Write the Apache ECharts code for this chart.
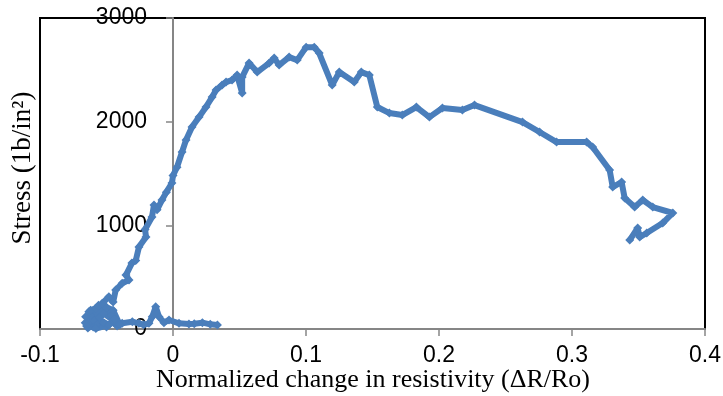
<!DOCTYPE html>
<html lang="en">
<head>
    <meta charset="UTF-8">
    <title>stress-resistivity</title>
    <script src="https://cdn.jsdelivr.net/npm/echarts/dist/echarts.min.js"></script>
    <style>
        html, body, #main {
            padding: 0px;
            margin: 0px;
            width: 723px;
            height: 396px;
            background: #fff;
        }
    </style>
</head>
<body>
    <div id="main"></div>
    <script type="text/javascript">
        // values: change in resistivity (x) and stress (y)
        const resistivity = [
            0.0334, 0.028, 0.0221, 0.016, 0.012, 0.0045, -0.003, -0.0068, -0.0105, -0.013,
            -0.0156, -0.0181, -0.022, -0.0256, -0.0306, -0.0382, -0.042, -0.0457, -0.05, -0.0557,
            -0.06, -0.0633, -0.064, -0.058, -0.066, -0.06, -0.065, -0.052, -0.058, -0.048,
            -0.062, -0.055, -0.0657, -0.05, -0.0633, -0.046, -0.062, -0.0582, -0.044, -0.056,
            -0.052, -0.04, -0.045, -0.05, -0.0532, -0.0482, -0.045, -0.0431,
            -0.0382, -0.0331, -0.0354, -0.0309, -0.028, -0.0256, -0.0203, -0.021, -0.0158, -0.0143,
            -0.012, -0.0083, -0.005, -0.0008,
            0.0, 0.003, 0.0068, 0.0098, 0.0143, 0.0196, 0.0248, 0.0294, 0.0324, 0.0369,
            0.0399, 0.0444, 0.0482, 0.052, 0.052, 0.0572, 0.0633, 0.0723, 0.0761, 0.0798,
            0.0873, 0.0934, 0.1001, 0.1062, 0.1099, 0.1197, 0.125, 0.1363, 0.1416, 0.1476,
            0.1536, 0.1627, 0.1724, 0.183, 0.1928, 0.2026, 0.2176, 0.2267, 0.2628, 0.2756,
            0.2884, 0.311, 0.3155, 0.3283, 0.3306, 0.3373, 0.3396, 0.3471, 0.3532, 0.3607,
            0.3758, 0.3682, 0.3562, 0.3509, 0.3494, 0.3434
        ];
        const stress = [
            39, 45, 61, 50, 48, 55, 87, 61, 119, 215,
            119, 55, 40, 55, 70, 55, 30, 70, 20, 87,
            20, 70, 10, 40, 60, 90, 30, 60, 5, 40,
            130, 110, 119, 170, 167, 130, 180, 200, 90, 230,
            150, 40, 180, 210, 248, 311, 260, 376,
            441, 473, 520, 636, 660, 791, 887, 960, 1080, 1196,
            1150, 1244, 1320, 1408,
            1480, 1560, 1707, 1823, 1948, 2044, 2141, 2237, 2305, 2353,
            2382, 2401, 2449, 2276, 2430, 2565, 2478, 2565, 2613, 2546,
            2623, 2594, 2719, 2719, 2662, 2353, 2478, 2382, 2478, 2449,
            2141, 2083, 2064, 2141, 2044, 2131, 2112, 2160, 1996, 1900,
            1803, 1803, 1755, 1533, 1369, 1418, 1263, 1176, 1244, 1176,
            1119, 1022, 926, 887, 974, 858
        ];
        const xTicks = [-0.1, 0, 0.1, 0.2, 0.3, 0.4];
        const yTicks = [0, 1000, 2000, 3000];
        const xName = 'Normalized change in resistivity (ΔR/Ro)';
        const yName = 'Stress (1b/in²)';

        let chart = echarts.init(document.getElementById('main'));
        let points = resistivity.map((x, i) => [x, stress[i]]);

        // plot box 40..705 px, so x = 0 sits one fifth of the way across
        const gridLeft = 40, gridRight = 18;
        const plotWidth = 723 - gridLeft - gridRight;
        const zeroShift = plotWidth * (0 - xTicks[0]) / (xTicks[xTicks.length - 1] - xTicks[0]);

        let option = {
            animation: false,
            backgroundColor: '#fff',
            grid: {
                left: gridLeft,
                right: gridRight,
                top: 18,
                bottom: 67,
                containLabel: false,
                outerBoundsMode: 'none',
                show: true,
                borderColor: '#000',
                borderWidth: 2
            },
            xAxis: {
                type: 'value',
                min: xTicks[0],
                max: xTicks[xTicks.length - 1],
                interval: 0.1,
                axisLine: { lineStyle: { color: '#868686', width: 2 } },
                axisTick: { length: 7, lineStyle: { color: '#868686', width: 1.5 } },
                axisLabel: {
                    margin: 15,
                    fontSize: 23,
                    fontFamily: 'Liberation Sans',
                    color: '#000',
                    formatter: v => String(Math.round(v * 10) / 10)
                },
                splitLine: { show: false }
            },
            yAxis: {
                type: 'value',
                min: yTicks[0],
                max: yTicks[yTicks.length - 1],
                interval: 1000,
                offset: -zeroShift,
                axisLine: { show: true, onZero: false, lineStyle: { color: '#868686', width: 2 } },
                axisTick: { show: true, length: 7, lineStyle: { color: '#868686', width: 1.5 } },
                axisLabel: {
                    margin: 26,
                    fontSize: 23,
                    fontFamily: 'Liberation Sans',
                    color: '#000',
                    formatter: v => String(v)
                },
                splitLine: { show: false }
            },
            graphic: [
                {
                    type: 'text',
                    x: 373,
                    y: 380,
                    style: {
                        text: xName,
                        font: '26px "Liberation Serif"',
                        fill: '#000',
                        textAlign: 'center',
                        textVerticalAlign: 'middle'
                    }
                },
                {
                    type: 'text',
                    x: 23,
                    y: 168,
                    rotation: Math.PI / 2,
                    style: {
                        text: yName,
                        font: '27px "Liberation Serif"',
                        fill: '#000',
                        textAlign: 'center',
                        textVerticalAlign: 'middle'
                    }
                }
            ],
            series: [{
                type: 'line',
                data: points,
                symbol: 'diamond',
                symbolSize: 9,
                lineStyle: { color: '#4a7ebb', width: 6 },
                itemStyle: { color: '#4a7ebb' },
                z: 1
            }]
        };

        chart.setOption(option);
    </script>
</body>
</html>
